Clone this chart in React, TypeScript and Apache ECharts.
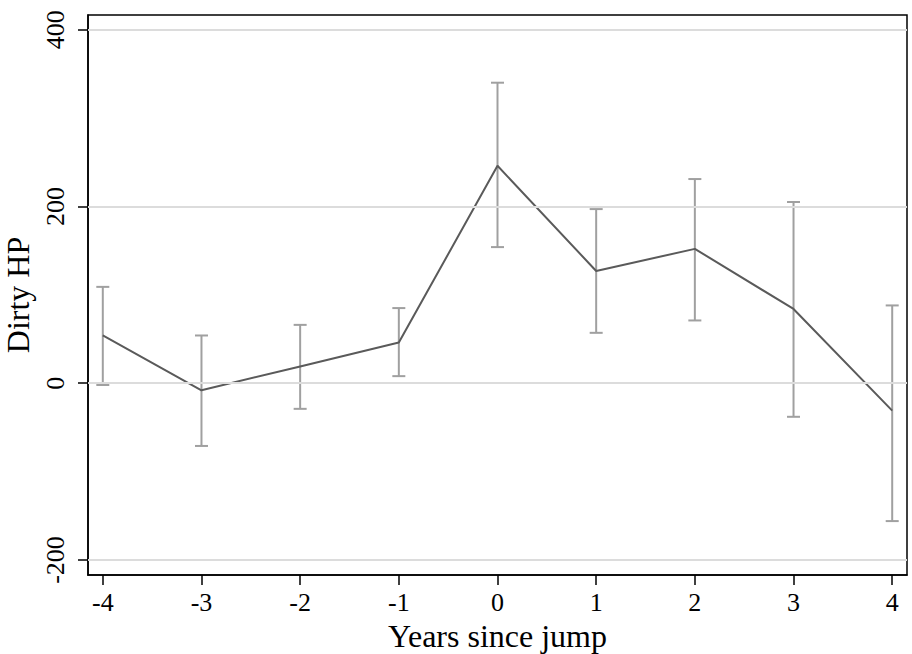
import React, { useEffect, useRef } from "react";
import * as echarts from "echarts";

const years = [-4, -3, -2, -1, 0, 1, 2, 3, 4];
const estimates = [54, -8, 19, 46, 246, 127, 152, 84, -31];
const upperCI = [109, 54, 66, 85, 340, 197, 231, 205, 88];
const lowerCI = [-2, -71, -29, 8, 154, 57, 71, -38, -156];
const yTicks = [-200, 0, 200, 400];
const xTicks = [-4, -3, -2, -1, 0, 1, 2, 3, 4];

const FONT = "Liberation Serif";

export default function App() {
  const ref = useRef<HTMLDivElement>(null);
  useEffect(() => {
    if (!ref.current) return;
    const chart = echarts.init(ref.current, undefined, { renderer: "svg" });
    const errData = years.map((y, i) => [y, lowerCI[i], upperCI[i]]);
    chart.setOption({
      animation: false,
      backgroundColor: "#fff",
      grid: {
        left: 88,
        right: 5,
        top: 15,
        bottom: 79,
        show: true,
        containLabel: false,
        outerBoundsMode: "none",
        borderColor: "#000",
        borderWidth: 1.5,
        backgroundColor: "transparent",
      },
      xAxis: {
        type: "value",
        min: -4.15,
        max: 4.15,
        name: "Years since jump",
        nameLocation: "middle",
        nameGap: 40,
        nameTextStyle: { fontFamily: FONT, fontSize: 32, color: "#000" },
        axisLine: { show: true, onZero: false, lineStyle: { color: "#000", width: 1.5 } },
        axisTick: { show: true, length: 10, customValues: xTicks, lineStyle: { color: "#000", width: 1.5 } },
        axisLabel: { customValues: xTicks, fontFamily: FONT, fontSize: 26, color: "#000", margin: 14 },
        splitLine: { show: false },
      },
      yAxis: {
        type: "value",
        min: -217,
        max: 416.6,
        name: "Dirty HP",
        nameLocation: "middle",
        nameGap: 50,
        nameTextStyle: { fontFamily: FONT, fontSize: 32, color: "#000" },
        axisLine: { show: true, onZero: false, lineStyle: { color: "#000", width: 1.5 } },
        axisTick: { show: true, length: 10, customValues: yTicks, lineStyle: { color: "#000", width: 1.5 } },
        axisLabel: { customValues: yTicks, rotate: 90, fontFamily: FONT, fontSize: 26, color: "#000", margin: 20 },
        splitLine: { show: false },
      },
      series: [
        {
          type: "line",
          data: [],
          silent: true,
          markLine: {
            silent: true,
            symbol: "none",
            label: { show: false },
            lineStyle: { color: "#dcdcdc", width: 2, type: "solid" },
            data: yTicks.map((v) => ({ yAxis: v })),
          },
        },
        {
          type: "custom",
          data: errData,
          z: 3,
          renderItem: (params: any, api: any) => {
            const x = api.value(0);
            const lo = api.coord([x, api.value(1)]);
            const hi = api.coord([x, api.value(2)]);
            const half = 6.5;
            const style = { stroke: "#a0a0a0", lineWidth: 2 };
            return {
              type: "group",
              children: [
                { type: "line", shape: { x1: lo[0], y1: lo[1], x2: hi[0], y2: hi[1] }, style },
                { type: "line", shape: { x1: lo[0] - half, y1: lo[1], x2: lo[0] + half, y2: lo[1] }, style },
                { type: "line", shape: { x1: hi[0] - half, y1: hi[1], x2: hi[0] + half, y2: hi[1] }, style },
              ],
            };
          },
        },
        {
          type: "line",
          z: 4,
          data: years.map((y, i) => [y, estimates[i]]),
          symbol: "none",
          lineStyle: { color: "#5a5a5a", width: 2 },
        },
      ],
    });
    return () => chart.dispose();
  }, []);
  return <div ref={ref} style={{ width: 912, height: 654, position: "absolute", left: 0, top: 0 }} />;
}
